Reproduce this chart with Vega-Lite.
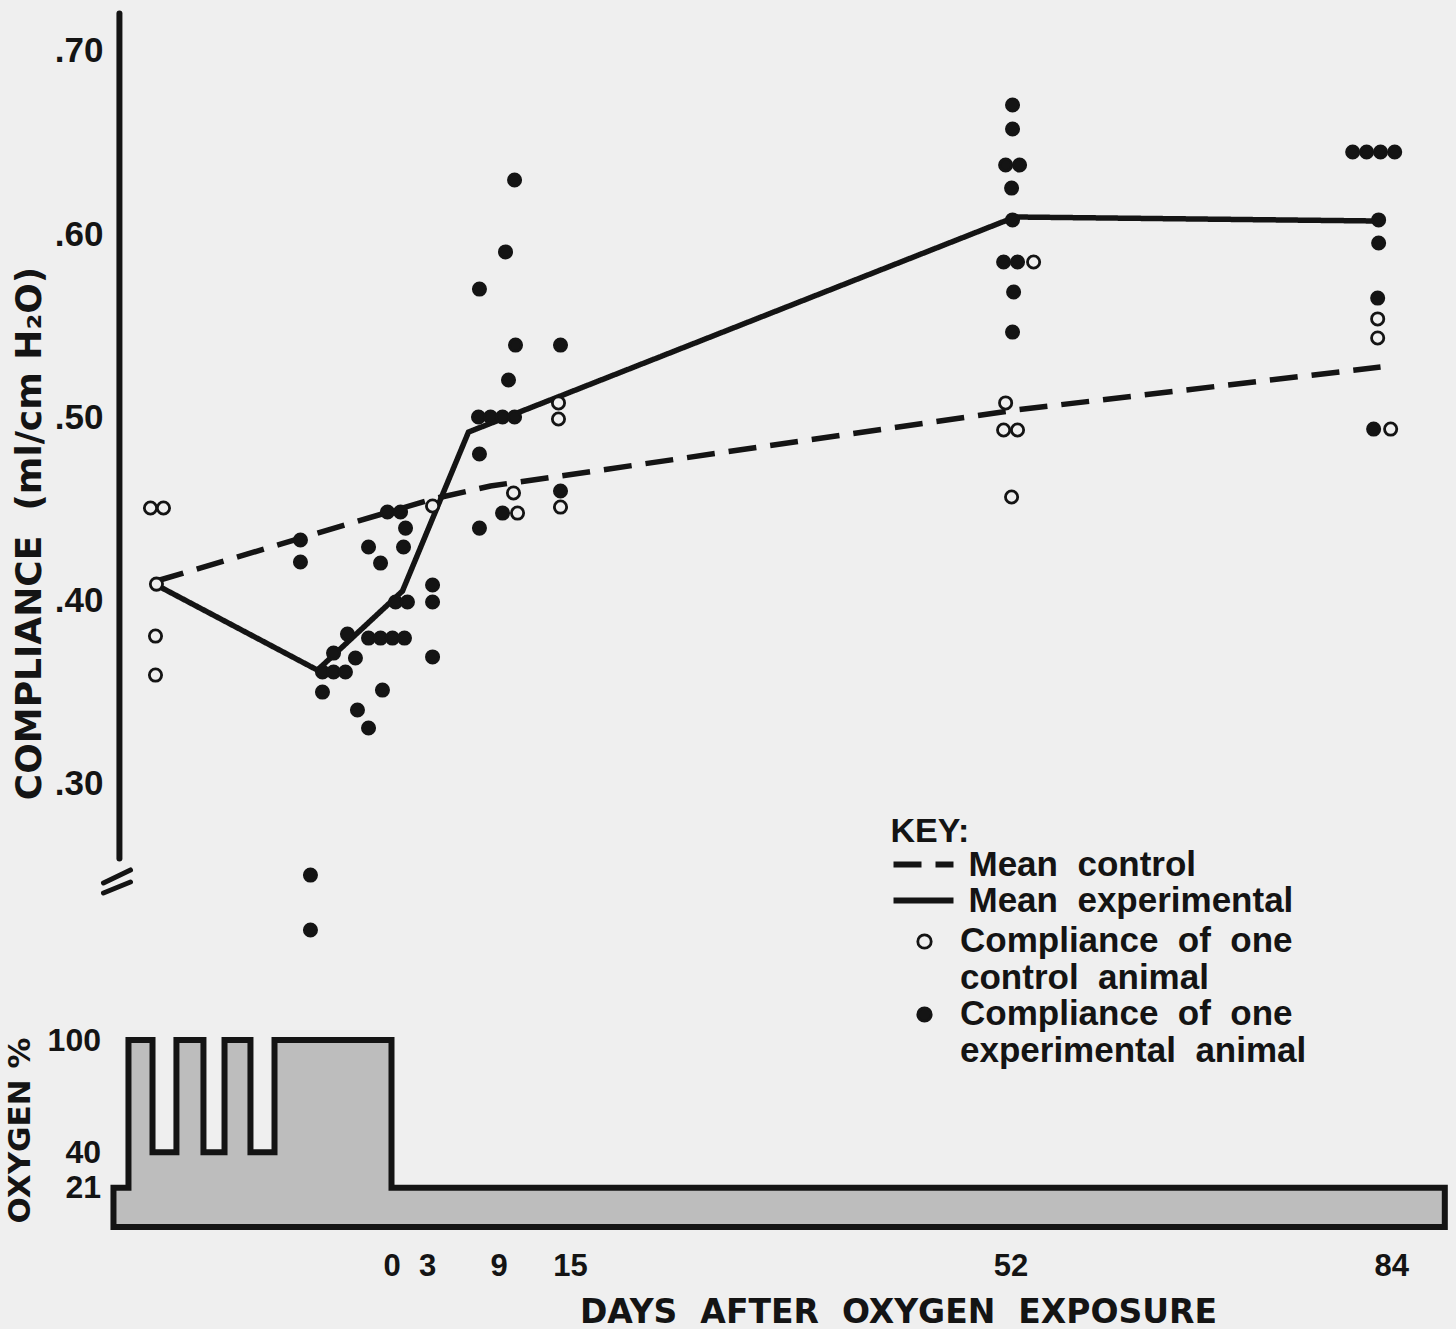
{
  "$schema": "https://vega.github.io/schema/vega-lite/v6.json",
  "background": "#efefef",
  "padding": {"left": 4, "top": 10, "right": 0, "bottom": 0},
  "autosize": {"type": "pad"},
  "spacing": 85,
  "bounds": "flush",
  "config": {
    "view": {"stroke": null},
    "font": "Liberation Sans",
    "axis": {"grid": false, "domain": false, "ticks": false, "tickSize": 0, "labelFont": "Liberation Sans", "labelFontWeight": "bold", "labelColor": "#141414", "titleColor": "#141414", "titleFont": "DejaVu Sans", "titleFontWeight": "bold", "labelOverlap": false, "labelFlush": false, "labelBound": false},
    "legend": {"padding": 0, "labelColor": "#141414", "titleColor": "#141414", "labelFont": "Liberation Sans", "labelFontWeight": "bold", "titleFont": "Liberation Sans", "titleFontWeight": "bold"}
  },
  "vconcat": [
    {
      "width": 1333,
      "height": 935,
      "encoding": {
        "x": {"field": "day", "type": "quantitative", "scale": {"domain": [-23.4, 88.6], "nice": false, "zero": false}, "axis": null},
        "y": {"field": "value", "type": "quantitative", "scale": {"domain": [0.2115, 0.7224], "nice": false, "zero": false},
          "axis": {"values": [0.3, 0.4, 0.5, 0.6, 0.7], "labelExpr": "substring(format(datum.value, '.2f'), 1)", "labelFontSize": 35, "labelPadding": 10, "title": "COMPLIANCE\u00a0 (ml/cm H\u2082O)", "titleFontSize": 36, "titleX": -72.5, "titleY": 523, "titleBaseline": "alphabetic", "titleAngle": 270, "titleAlign": "center"}}
      },
      "layer": [
        {
          "data": {"values": [{"day": -22.86, "value": 0.2588, "value2": 0.7205}]},
          "mark": {"type": "rule", "strokeWidth": 6, "strokeCap": "round", "color": "#141414"},
          "encoding": {"y2": {"field": "value2"}}
        },
        {
          "data": {"values": [
            {"day": -24.2, "value": 0.2454, "day2": -21.93, "value2": 0.2525},
            {"day": -24.2, "value": 0.2399, "day2": -21.93, "value2": 0.2459}
          ]},
          "mark": {"type": "rule", "strokeWidth": 5, "strokeCap": "round", "color": "#141414"},
          "encoding": {"x2": {"field": "day2"}, "y2": {"field": "value2"}}
        },
        {
          "data": {"values": [
            {"series": "Mean control", "day": -19.75, "value": 0.4104},
            {"series": "Mean control", "day": 3.45, "value": 0.4552},
            {"series": "Mean control", "day": 8.32, "value": 0.4623},
            {"series": "Mean control", "day": 14.2, "value": 0.4678},
            {"series": "Mean control", "day": 52.4, "value": 0.5038},
            {"series": "Mean control", "day": 83.1, "value": 0.5273},
            {"series": "Mean experimental", "day": -19.75, "value": 0.4082},
            {"series": "Mean experimental", "day": -6.22, "value": 0.3617},
            {"series": "Mean experimental", "day": 0.92, "value": 0.4049},
            {"series": "Mean experimental", "day": 6.47, "value": 0.4918},
            {"series": "Mean experimental", "day": 14.2, "value": 0.5115},
            {"series": "Mean experimental", "day": 52.4, "value": 0.6093},
            {"series": "Mean experimental", "day": 82.9, "value": 0.6071}
          ]},
          "mark": {"type": "line", "strokeWidth": 5.5, "color": "#141414", "strokeCap": "butt"},
          "encoding": {
            "strokeDash": {"field": "series", "type": "nominal",
              "scale": {"domain": ["Mean control", "Mean experimental"], "range": [[28, 14], [1, 0]]},
              "legend": {"orient": "none", "legendX": 777.5, "legendY": 805, "title": "KEY:", "titleFontSize": 34, "titlePadding": -2,
                "symbolType": "stroke", "symbolSize": 3600, "symbolStrokeWidth": 6, "symbolStrokeColor": "#141414",
                "labelFontSize": 35, "labelOffset": 12, "labelLimit": 700, "clipHeight": 35, "rowPadding": 0,
                "labelExpr": "datum.label == 'Mean control' ? 'Mean\u00a0 control' : 'Mean\u00a0 experimental'"}}
          }
        },
        {
          "data": {"values": [
            {"group": "control animal", "day": -20.25, "value": 0.4503},
            {"group": "control animal", "day": -19.16, "value": 0.4503},
            {"group": "control animal", "day": -19.75, "value": 0.4087},
            {"group": "control animal", "day": -19.83, "value": 0.3803},
            {"group": "control animal", "day": -19.83, "value": 0.359},
            {"group": "control animal", "day": 3.45, "value": 0.4514},
            {"group": "control animal", "day": 10.25, "value": 0.4585},
            {"group": "control animal", "day": 10.59, "value": 0.4475},
            {"group": "control animal", "day": 14.03, "value": 0.5077},
            {"group": "control animal", "day": 14.03, "value": 0.4989},
            {"group": "control animal", "day": 14.2, "value": 0.4508},
            {"group": "control animal", "day": 53.95, "value": 0.5847},
            {"group": "control animal", "day": 51.6, "value": 0.5077},
            {"group": "control animal", "day": 51.43, "value": 0.4929},
            {"group": "control animal", "day": 52.6, "value": 0.4929},
            {"group": "control animal", "day": 52.1, "value": 0.4563},
            {"group": "control animal", "day": 82.86, "value": 0.5536},
            {"group": "control animal", "day": 82.86, "value": 0.5432},
            {"group": "control animal", "day": 83.95, "value": 0.4934},
            {"group": "experimental animal", "day": -7.65, "value": 0.4328},
            {"group": "experimental animal", "day": -7.65, "value": 0.4208},
            {"group": "experimental animal", "day": -6.81, "value": 0.2497},
            {"group": "experimental animal", "day": -6.81, "value": 0.2197},
            {"group": "experimental animal", "day": -5.8, "value": 0.3497},
            {"group": "experimental animal", "day": -5.8, "value": 0.3607},
            {"group": "experimental animal", "day": -4.87, "value": 0.3607},
            {"group": "experimental animal", "day": -3.87, "value": 0.3607},
            {"group": "experimental animal", "day": -4.87, "value": 0.371},
            {"group": "experimental animal", "day": -3.7, "value": 0.3814},
            {"group": "experimental animal", "day": -3.03, "value": 0.3683},
            {"group": "experimental animal", "day": -2.86, "value": 0.3399},
            {"group": "experimental animal", "day": -1.93, "value": 0.3301},
            {"group": "experimental animal", "day": -1.93, "value": 0.429},
            {"group": "experimental animal", "day": -0.92, "value": 0.4202},
            {"group": "experimental animal", "day": -0.76, "value": 0.3508},
            {"group": "experimental animal", "day": -1.93, "value": 0.3792},
            {"group": "experimental animal", "day": -0.92, "value": 0.3792},
            {"group": "experimental animal", "day": 0.08, "value": 0.3792},
            {"group": "experimental animal", "day": 1.09, "value": 0.3792},
            {"group": "experimental animal", "day": 0.34, "value": 0.3989},
            {"group": "experimental animal", "day": 1.34, "value": 0.3989},
            {"group": "experimental animal", "day": -0.34, "value": 0.4481},
            {"group": "experimental animal", "day": 0.76, "value": 0.4481},
            {"group": "experimental animal", "day": 1.18, "value": 0.4393},
            {"group": "experimental animal", "day": 1.01, "value": 0.429},
            {"group": "experimental animal", "day": 3.45, "value": 0.4082},
            {"group": "experimental animal", "day": 3.45, "value": 0.3989},
            {"group": "experimental animal", "day": 3.45, "value": 0.3689},
            {"group": "experimental animal", "day": 7.39, "value": 0.5699},
            {"group": "experimental animal", "day": 10.42, "value": 0.5393},
            {"group": "experimental animal", "day": 9.58, "value": 0.5902},
            {"group": "experimental animal", "day": 10.34, "value": 0.6295},
            {"group": "experimental animal", "day": 9.83, "value": 0.5202},
            {"group": "experimental animal", "day": 7.31, "value": 0.5},
            {"group": "experimental animal", "day": 8.32, "value": 0.5},
            {"group": "experimental animal", "day": 9.33, "value": 0.5},
            {"group": "experimental animal", "day": 10.34, "value": 0.5},
            {"group": "experimental animal", "day": 7.39, "value": 0.4798},
            {"group": "experimental animal", "day": 9.33, "value": 0.4475},
            {"group": "experimental animal", "day": 7.39, "value": 0.4393},
            {"group": "experimental animal", "day": 14.2, "value": 0.5393},
            {"group": "experimental animal", "day": 14.2, "value": 0.4596},
            {"group": "experimental animal", "day": 52.18, "value": 0.6705},
            {"group": "experimental animal", "day": 52.18, "value": 0.6574},
            {"group": "experimental animal", "day": 51.6, "value": 0.6377},
            {"group": "experimental animal", "day": 52.77, "value": 0.6377},
            {"group": "experimental animal", "day": 52.1, "value": 0.6251},
            {"group": "experimental animal", "day": 52.18, "value": 0.6077},
            {"group": "experimental animal", "day": 51.43, "value": 0.5847},
            {"group": "experimental animal", "day": 52.6, "value": 0.5847},
            {"group": "experimental animal", "day": 52.27, "value": 0.5683},
            {"group": "experimental animal", "day": 52.18, "value": 0.5464},
            {"group": "experimental animal", "day": 80.76, "value": 0.6448},
            {"group": "experimental animal", "day": 81.93, "value": 0.6448},
            {"group": "experimental animal", "day": 83.1, "value": 0.6448},
            {"group": "experimental animal", "day": 84.29, "value": 0.6448},
            {"group": "experimental animal", "day": 82.94, "value": 0.6077},
            {"group": "experimental animal", "day": 82.94, "value": 0.5951},
            {"group": "experimental animal", "day": 82.86, "value": 0.565},
            {"group": "experimental animal", "day": 82.52, "value": 0.4934}
          ]},
          "mark": {"type": "point", "shape": "circle", "filled": true, "stroke": "#141414", "strokeWidth": 2.8, "size": 150, "opacity": 1},
          "encoding": {
            "fill": {"field": "group", "type": "nominal",
              "scale": {"domain": ["control animal", "experimental animal"], "range": ["#efefef", "#141414"]},
              "legend": {"orient": "none", "legendX": 794, "legendY": 924, "title": null,
                "symbolType": "M-1,-1.49A1,1,0,1,0,1,-1.49A1,1,0,1,0,-1,-1.49Z", "symbolSize": 180, "symbolStrokeColor": "#141414", "symbolStrokeWidth": 2.8,
                "labelFontSize": 35, "labelOffset": 18, "labelLimit": 700, "labelBaseline": "alphabetic", "rowPadding": 0,
                "labelExpr": "datum.label == 'control animal' ? ['Compliance\u00a0 of\u00a0 one', 'control\u00a0 animal'] : ['Compliance\u00a0 of\u00a0 one', 'experimental\u00a0 animal']"}}
          }
        }
      ]
    },
    {
      "width": 1333,
      "height": 197,
      "data": {"values": [
        {"day": -23.36, "pct": 21},
        {"day": -22.1, "pct": 100},
        {"day": -20.08, "pct": 40},
        {"day": -18.07, "pct": 100},
        {"day": -15.8, "pct": 40},
        {"day": -14.03, "pct": 100},
        {"day": -11.85, "pct": 40},
        {"day": -9.83, "pct": 100},
        {"day": 0, "pct": 21},
        {"day": 88.5, "pct": 21}
      ]},
      "mark": {"type": "area", "interpolate": "step-after", "fill": "#bdbdbd", "stroke": "#141414", "strokeWidth": 6, "strokeJoin": "miter"},
      "encoding": {
        "x": {"field": "day", "type": "quantitative", "scale": {"domain": [-23.4, 88.6], "nice": false, "zero": false},
          "axis": {"values": [0, 3, 9, 15, 52, 84], "labelFontSize": 31, "labelPadding": 24, "title": "DAYS\u00a0 AFTER\u00a0 OXYGEN\u00a0 EXPOSURE", "titleFontSize": 33, "titleX": 785, "titleY": 69, "titleBaseline": "top"}},
        "y": {"field": "pct", "type": "quantitative", "scale": {"domain": [0, 105.35], "nice": false, "zero": false},
          "axis": {"values": [21, 40, 100], "labelFontSize": 32, "labelPadding": 12.5, "title": "OXYGEN %", "titleFontSize": 31, "titleX": -83.5, "titleY": 100, "titleBaseline": "alphabetic", "titleAngle": 270, "titleAlign": "center"}}
      }
    }
  ]
}
